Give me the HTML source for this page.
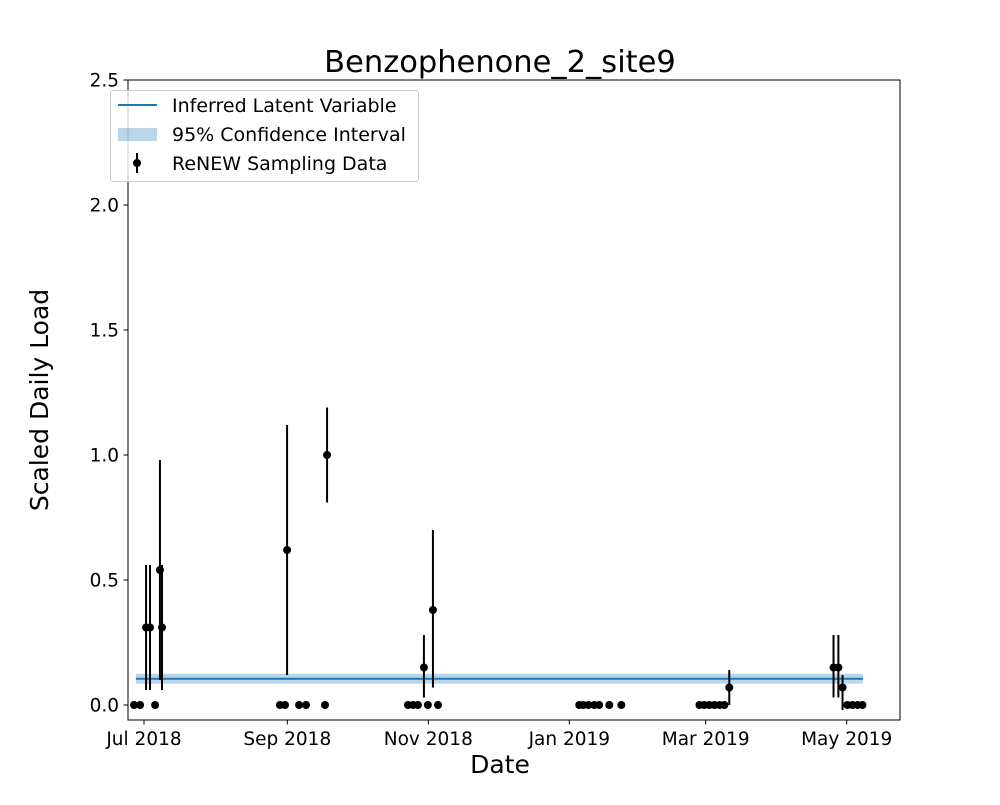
<!DOCTYPE html>
<html><head><meta charset="utf-8"><style>
body{margin:0;background:#fff;}
svg text{font-family:"DejaVu Sans","Liberation Sans",sans-serif;fill:#000;}
</style></head><body>
<svg id="chart" width="1000" height="800" xmlns="http://www.w3.org/2000/svg">
<text x="500" y="72" font-size="30.5" text-anchor="middle">Benzophenone_2_site9</text>
<text x="500" y="773" font-size="25" text-anchor="middle">Date</text>
<text x="48" y="400" font-size="25" text-anchor="middle" transform="rotate(-90 48 400)">Scaled Daily Load</text>
<g id="plot"></g>
<rect x="128" y="80" width="772" height="640" fill="none" stroke="#000" stroke-width="1"/>
<g>
<rect x="110.5" y="90.5" width="308" height="91" rx="3" fill="#fff" fill-opacity="0.8" stroke="#ccc"/>
<line x1="118" y1="105" x2="157" y2="105" stroke="#1f77b4" stroke-width="2"/>
<text x="172" y="112" font-size="19">Inferred Latent Variable</text>
<rect x="118" y="128" width="39" height="13" fill="#1f77b4" fill-opacity="0.3"/>
<text x="172" y="141" font-size="19">95% Confidence Interval</text>
<line x1="137" y1="153" x2="137" y2="173" stroke="#000" stroke-width="2"/>
<circle cx="137" cy="163" r="4" fill="#000"/>
<text x="172" y="170" font-size="19">ReNEW Sampling Data</text>
</g>
</svg>
<script>
// days since 2018-07-01
const sampleDays = [-4.3,-1.7,0.9,2.6,4.8,6.9,7.8, 61.9,58.8,61,67.1,70.1,78.3,79.2, 114.2,116.4,118.5,121.1,122.8,125,127.2, 188.3,190,192.2,194.8,196.9,201.3,206.5, 240.3,242.4,244.6,246.8,249,251.1,253.2, 298.3,300.4,302.2,304.3,306.5,308.7,310.8];
const sampleValues = [0,0,0.31,0.31,0,0.54,0.31, 0.62,0,0,0,0,0,1.0, 0,0,0,0.15,0,0.38,0, 0,0,0,0,0,0,0, 0,0,0,0,0,0,0.07, 0.15,0.15,0.07,0,0,0,0];
const errLow = [0,0,0.06,0.06,0,0.1,0.06, 0.12,0,0,0,0,0,0.81, 0,0,0,0.03,0,0.07,0, 0,0,0,0,0,0,0, 0,0,0,0,0,0,0.0, 0.03,0.03,-0.02,0,0,0,0];
const errHigh = [0,0,0.56,0.56,0,0.98,0.56, 1.12,0,0,0,0,0,1.19, 0,0,0,0.28,0,0.70,0, 0,0,0,0,0,0,0, 0,0,0,0,0,0,0.14, 0.28,0.28,0.12,0,0,0,0];
const latentDays = [-3.5, 311];
const latentValues = [0.105, 0.105];
const ciLow = [0.085, 0.085];
const ciHigh = [0.125, 0.125];
const xTickDays = [0, 62, 123, 184, 243, 304];
const xTickLabels = ["Jul 2018","Sep 2018","Nov 2018","Jan 2019","Mar 2019","May 2019"];
const yTicks = [0,0.5,1,1.5,2,2.5];
const yTickLabels = ["0.0","0.5","1.0","1.5","2.0","2.5"];

const NS="http://www.w3.org/2000/svg";
const X=d=>144+d*2.3115;
const Y=v=>705-v*250;
const g=document.getElementById('plot');
function mk(tag,attrs){const e=document.createElementNS(NS,tag);for(const k in attrs)e.setAttribute(k,attrs[k]);g.appendChild(e);return e;}

let pts=latentDays.map((d,i)=>X(d)+','+Y(ciHigh[i])).concat(latentDays.map((d,i)=>X(d)+','+Y(ciLow[i])).reverse());
const band=mk('polygon',{points:pts.join(' '),fill:'#1f77b4','fill-opacity':0.3});


const line=mk('polyline',{points:latentDays.map((d,i)=>X(d)+','+Y(latentValues[i])).join(' '),fill:'none',stroke:'#1f77b4','stroke-width':2});



sampleDays.forEach((d,i)=>{
  if(errHigh[i]>errLow[i]){
    const eb=mk('line',{x1:X(d),x2:X(d),y1:Y(errLow[i]),y2:Y(errHigh[i]),stroke:'#000','stroke-width':2});
    
    
  }
  const c=mk('circle',{cx:X(d),cy:Y(sampleValues[i]),r:4,fill:'#000'});
  
  
});

xTickDays.forEach((d,i)=>{
  const t=mk('line',{x1:X(d),x2:X(d),y1:720,y2:724.5,stroke:'#000'});
  
  
  const l=mk('text',{x:X(d),y:745,'font-size':18.5,'text-anchor':'middle'});
  l.textContent=xTickLabels[i];
  
  
});
yTicks.forEach((v,i)=>{
  const t=mk('line',{x1:123.5,x2:128,y1:Y(v),y2:Y(v),stroke:'#000'});
  
  
  const l=mk('text',{x:119,y:Y(v)+6.5,'font-size':18.5,'text-anchor':'end'});
  l.textContent=yTickLabels[i];
  
  
});
</script>
</body></html>
